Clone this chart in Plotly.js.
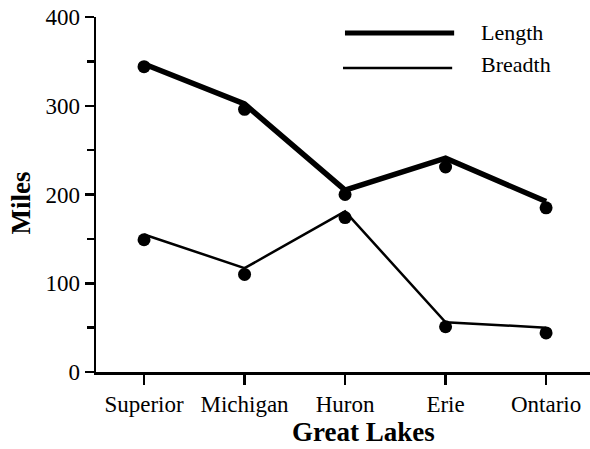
<!DOCTYPE html>
<html>
<head>
<meta charset="utf-8">
<script src="https://cdn.plot.ly/plotly-3.0.1.min.js"></script>
<style>html,body{margin:0;padding:0;background:#fff;}#chart{width:590px;height:449px;}</style>
</head>
<body>
<div id="chart"></div>
<script>
const lakes = ["Superior", "Michigan", "Huron", "Erie", "Ontario"];
// Line vertices as drawn
const lengthLine = [347, 302, 205, 241, 192];
const breadthLine = [155, 117, 181, 56, 50];
// Point markers as drawn
const lengthPoints = [344, 296, 200, 231, 185];
const breadthPoints = [149, 110, 174, 51, 44];
const seriesNames = ["Length", "Breadth"];
const yTicks = [0, 100, 200, 300, 400];

const FONT = "Liberation Serif, Times New Roman, serif";

const traces = [
  {x: lakes, y: lengthLine, mode: "lines", line: {color: "#000", width: 5.5}, hoverinfo: "skip", showlegend: false},
  {x: lakes, y: breadthLine, mode: "lines", line: {color: "#000", width: 2.5}, hoverinfo: "skip", showlegend: false},
  {x: lakes, y: lengthPoints, mode: "markers", marker: {color: "#000", size: 13}, showlegend: false},
  {x: lakes, y: breadthPoints, mode: "markers", marker: {color: "#000", size: 13}, showlegend: false}
];

const layout = {
  width: 590, height: 449,
  margin: {l: 96, r: 0, t: 17, b: 77},
  paper_bgcolor: "#fff", plot_bgcolor: "#fff",
  font: {family: FONT, color: "#000", size: 22},
  showlegend: false,
  xaxis: {
    type: "category", range: [-0.478, 4.437],
    showline: true, linewidth: 2.5, linecolor: "#000",
    ticks: "outside", ticklen: 10, tickwidth: 2.5, tickcolor: "#000",
    showgrid: false, zeroline: false,
    tickfont: {family: FONT, size: 23}
  },
  yaxis: {
    range: [0, 400], tickvals: yTicks, ticktext: yTicks.map(String),
    showline: true, linewidth: 2.5, linecolor: "#000",
    ticks: "outside", ticklen: 9, tickwidth: 2.5, tickcolor: "#000",
    minor: {dtick: 50, ticks: "outside", ticklen: 7, tickwidth: 2.5, tickcolor: "#000", showgrid: false},
    showgrid: false, zeroline: false,
    tickfont: {family: FONT, size: 23}
  },
  shapes: [
    {type: "line", xref: "paper", yref: "paper", x0: 0.504, x1: 0.725, y0: 0.955, y1: 0.955, line: {color: "#000", width: 5}},
    {type: "line", xref: "paper", yref: "paper", x0: 0.500, x1: 0.721, y0: 0.8565, y1: 0.8565, line: {color: "#000", width: 2.5}}
  ],
  annotations: [
    {text: seriesNames[0], xref: "paper", yref: "paper", x: 0.775, y: 0.957, xanchor: "left", yanchor: "middle", showarrow: false, font: {family: FONT, size: 22}},
    {text: seriesNames[1], xref: "paper", yref: "paper", x: 0.775, y: 0.865, xanchor: "left", yanchor: "middle", showarrow: false, font: {family: FONT, size: 22}},
    {text: "<b>Great Lakes</b>", xref: "paper", yref: "paper", x: 0.5425, y: -0.2135, xanchor: "center", yanchor: "bottom", borderpad: 0, showarrow: false, font: {family: FONT, size: 27}},
    {text: "<b>Miles</b>", xref: "paper", yref: "paper", x: -0.152, y: 0.477, xanchor: "center", yanchor: "middle", textangle: -90, showarrow: false, font: {family: FONT, size: 27}}
  ]
};

Plotly.newPlot("chart", traces, layout, {staticPlot: true, displayModeBar: false});
</script>
</body>
</html>
